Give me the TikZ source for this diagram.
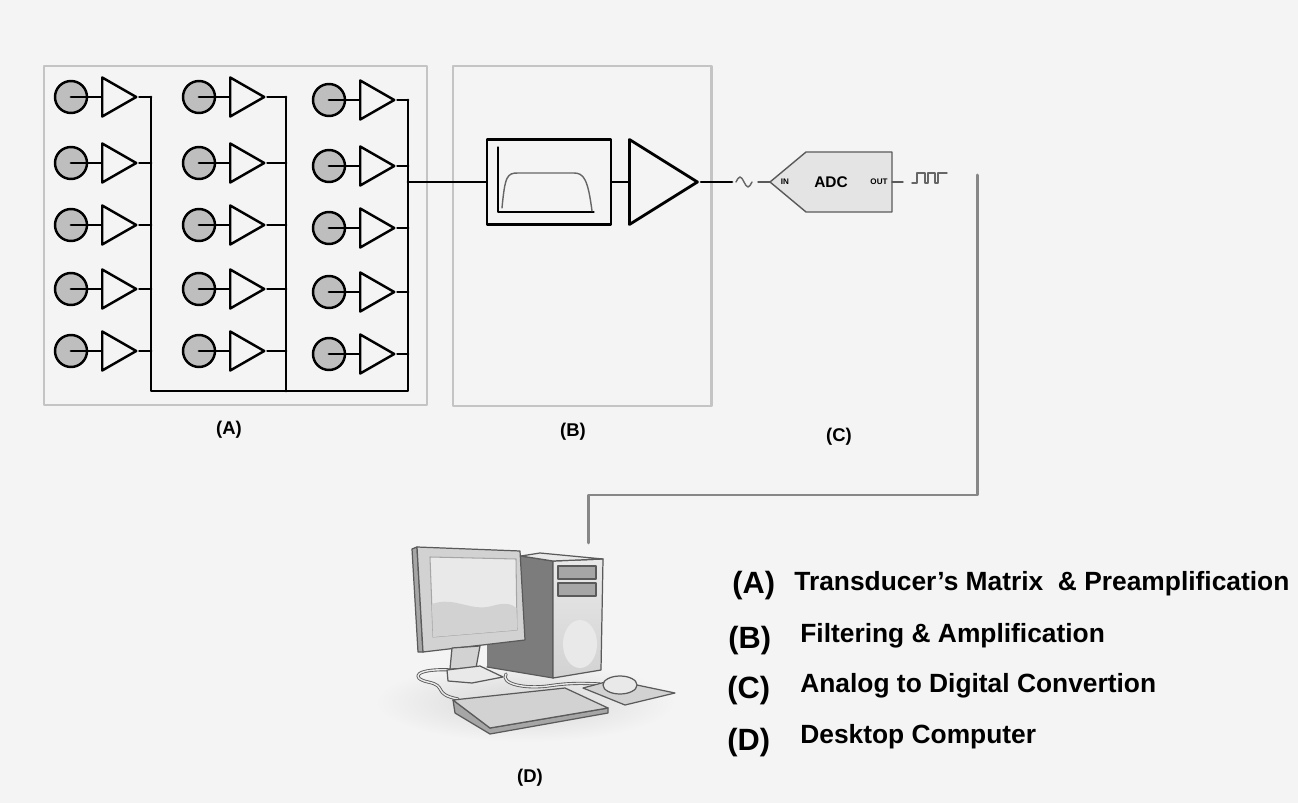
\documentclass[tikz,border=0pt]{standalone}
\usepackage{fontspec}
\setmainfont{Liberation Sans}
\usetikzlibrary{shapes.geometric,positioning}

\definecolor{bgcol}{HTML}{F4F4F4}
\definecolor{framegray}{HTML}{C4C4C4}
\definecolor{sensorgray}{HTML}{BEBEBE}
\definecolor{linkgray}{HTML}{878787}
\definecolor{adcfill}{HTML}{E4E4E4}
\definecolor{pcedge}{HTML}{5A5A5A}
\definecolor{pcdark}{HTML}{7C7C7C}
\definecolor{pcmid}{HTML}{A6A6A6}
\definecolor{pclight}{HTML}{D2D2D2}
\definecolor{pcpale}{HTML}{E9E9E9}

\tikzset{
  wire/.style={line width=1.6pt},
  frame/.style={draw=framegray,line width=1.7pt},
  sensor/.style={circle,draw,line width=1.4pt,fill=sensorgray,minimum size=0.64cm,inner sep=0pt},
  preamp/.style={isosceles triangle,isosceles triangle stretches,draw,line width=1.4pt,
    minimum width=0.78cm,minimum height=0.68cm,inner sep=0pt,anchor=west},
  mainamp/.style={preamp,line width=1.6pt,minimum width=1.7cm,minimum height=1.36cm},
  filterbox/.style={draw,line width=1.6pt,minimum width=2.48cm,minimum height=1.7cm,inner sep=0pt},
  link/.style={draw=linkgray,line width=1.7pt},
  tag/.style={font=\fontsize{10.5}{12}\selectfont\bfseries,inner sep=0pt},
  adctext/.style={font=\fontsize{#1}{#1}\selectfont\bfseries,inner sep=0pt},
  legkey/.style={font=\fontsize{17.5}{20}\selectfont\bfseries,inner sep=0pt,anchor=base west},
  legtext/.style={font=\fontsize{15}{17}\selectfont\bfseries,inner sep=0pt,anchor=base west},
  pcpart/.style={draw=pcedge,line width=0.7pt},
}

\begin{document}
\begin{tikzpicture}[x=0.02cm,y=-0.02cm,line cap=round,line join=round]
  \fill[bgcol] (0,0) rectangle (1298,803);

  % Panels
  \draw[frame] (44,66) rectangle (427,405);
  \draw[frame] (453,66) rectangle (711,406);

  % Transducer matrix with preamplifiers
  \foreach \c/\cx/\bx/\dy in {1/71/151/0,2/199/286/0,3/329/408/3}{
    \foreach \r/\ry in {1/97,2/163,3/225,4/289,5/351}{
      \node[sensor] (s\c\r) at (\cx,\ry+\dy) {};
      \node[preamp] (p\c\r) at (\cx+30,\ry+\dy) {};
      \coordinate (b\c\r) at (\bx,\ry+\dy);
      \draw[wire] (s\c\r.center) -- (p\c\r.west);
      \draw[wire] (p\c\r.apex) -- (b\c\r);
    }
  }
  % Common bus
  \coordinate (busout) at (408,182);
  \draw[wire] (b11) -- (151,391) -- (408,391) -- (b31);
  \draw[wire] (b21) -- (286,391);

  % Filter and amplifier
  \node[filterbox] (filter) at (549,182) {};
  \node[mainamp] (amp) at (628,182) {};
  \draw[wire] (busout) -- (filter.west);
  \draw[wire] (filter.east) -- (amp.west);
  \draw[line width=0.6pt] (498,147) -- (498,212) -- (594,212);
  \draw[black!60,line width=0.8pt] (502,208)
    .. controls (505,176) and (507,173) .. (518,173) -- (574,173)
    .. controls (584,173) and (588,180) .. (592,211);

  % A/D converter
  \coordinate (adcwire) at (732,182);
  \draw[wire] (amp.apex) -- (adcwire);
  \draw[black!60,line width=0.8pt] (736,182) sin (740,177) cos (744,182) sin (748,187) cos (752,182);
  \draw[pcedge,line width=0.8pt] (758,182) -- (770,182);
  \draw[fill=adcfill,draw=pcedge,line width=0.8pt]
    (770,182) -- (806,152) -- (892,152) -- (892,212) -- (806,212) -- cycle;
  \node[adctext=4.6] (adcin) at (785,182) {IN};
  \node[adctext=8.8] (adcname) at (831,182) {ADC};
  \node[adctext=4.6] (adcout) at (879,182) {OUT};
  \draw[pcedge,line width=0.8pt] (892,182) -- (903,182);
  \draw[black!60,line width=0.8pt] (912,183) -- (917,183) -- (917,173) -- (925,173) -- (925,183)
    -- (928,183) -- (928,173) -- (935,173) -- (935,183) -- (938,183) -- (938,173) -- (947,173);

  % Panel tags
  \node[tag] (tagA) at (229,430) {(A)};
  \node[tag] (tagB) at (573,432) {(B)};
  \node[tag] (tagC) at (839,437) {(C)};
  \node[tag] (tagD) at (530,778) {(D)};

  % Link to the computer
  \coordinate (linktop) at (977,175);
  \coordinate (pctop) at (588,543);
  \draw[link] (linktop) -- (977,495) -| (pctop);

  % Desktop computer
  \shade[inner color=black!16,outer color=bgcol] (525,702) ellipse [x radius=150,y radius=40];
  % tower
  \fill[pcdark] (521,556) -- (553,561) -- (553,678) -- (487,667) -- (487,600) -- cycle;
  \draw[pcpart] (521,556) -- (553,561) -- (553,678) -- (487,667);
  \draw[pcpart,top color=pcpale,bottom color=pclight] (553,561) -- (603,559) -- (601,670) -- (553,678) -- cycle;
  \draw[pcpart,fill=pcpale] (521,556) -- (540,553) -- (603,559) -- (553,561) -- cycle;
  \fill[pcpale] (580,644) ellipse [x radius=17,y radius=24];
  \draw[pcpart,fill=pcmid] (558,566) rectangle (596,579);
  \draw[pcpart,fill=pcmid] (558,583) rectangle (596,596);
  % cables
  \foreach \w/\col in {1.8pt/pcedge,0.8pt/pcpale}{
    \draw[\col,line width=\w] (452,670) .. controls (415,668) and (410,678) .. (428,682)
      .. controls (448,686) and (432,694) .. (458,699);
    \draw[\col,line width=\w] (506,674) .. controls (500,684) and (525,689) .. (548,686)
      .. controls (568,683) and (580,683) .. (600,684);
  }
  % monitor
  \draw[pcpart,fill=pcmid] (412,549) -- (417,547) -- (423,652) -- (418,652) -- cycle;
  \draw[pcpart,fill=pclight] (417,547) -- (520,551) -- (525,640) -- (423,652) -- cycle;
  \draw[draw=pcmid,fill=pcpale,line width=0.6pt] (430,557) -- (516,559) -- (517,630) -- (433,637) -- cycle;
  \fill[pclight] (432,604) .. controls (455,596) and (470,612) .. (492,606)
    .. controls (505,602) and (512,604) .. (516.5,608) -- (517,630) -- (433,637) -- cycle;
  % stand
  \draw[pcpart,fill=pclight] (452,648) -- (480,646) -- (476,668) -- (450,669) -- cycle;
  \draw[pcpart,fill=pcpale] (447,670) -- (480,666) -- (503,677) -- (472,683) -- (448,681) -- cycle;
  % keyboard
  \draw[pcpart,fill=pcmid] (453,700) -- (490,728) -- (608,708) -- (608,713) -- (490,734) -- (455,713) -- cycle;
  \draw[pcpart,fill=pclight] (453,700) -- (565,688) -- (608,708) -- (490,728) -- cycle;
  % mouse pad and mouse
  \draw[pcpart,fill=pclight] (583,688) -- (613,680) -- (675,693) -- (625,705) -- cycle;
  \draw[pcpart,fill=pcpale] (620,685) ellipse [x radius=17,y radius=9];

  % Legend
  \node[legkey] (keyA) at (732,593) {(A)};
  \node[legtext] (txtA) at (794,590) {Transducer's Matrix\ \ \& Preamplification};
  \node[legkey] (keyB) at (728,648) {(B)};
  \node[legtext] (txtB) at (800,642) {Filtering \& Amplification};
  \node[legkey] (keyC) at (727,698) {(C)};
  \node[legtext] (txtC) at (800,692) {Analog to Digital Convertion};
  \node[legkey] (keyD) at (727,750) {(D)};
  \node[legtext] (txtD) at (800,743) {Desktop Computer};
\end{tikzpicture}
\end{document}
